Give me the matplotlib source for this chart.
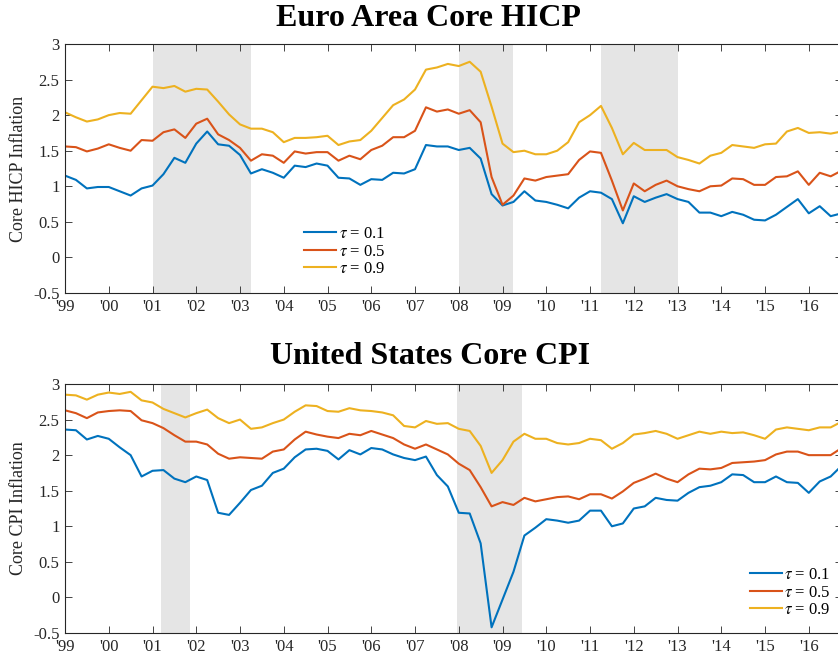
import matplotlib
matplotlib.use("Agg")
import matplotlib.pyplot as plt
import numpy as np

# quarterly estimates, 1999Q1 - 2016Q4
ea_q10 = [1.15, 1.09, 0.97, 0.99, 0.99, 0.93, 0.87, 0.97,
          1.01, 1.17, 1.40, 1.33, 1.60, 1.77, 1.59, 1.57,
          1.44, 1.18, 1.24, 1.19, 1.12, 1.29, 1.27, 1.32,
          1.29, 1.12, 1.11, 1.02, 1.10, 1.09, 1.19, 1.18,
          1.24, 1.58, 1.56, 1.56, 1.51, 1.54, 1.39, 0.89,
          0.73, 0.78, 0.93, 0.80, 0.78, 0.74, 0.69, 0.84,
          0.93, 0.91, 0.82, 0.48, 0.86, 0.78, 0.84, 0.89,
          0.82, 0.78, 0.63, 0.63, 0.58, 0.64, 0.60, 0.53,
          0.52, 0.60, 0.71, 0.82, 0.62, 0.72, 0.58, 0.62]
ea_q50 = [1.56, 1.55, 1.49, 1.53, 1.59, 1.54, 1.50, 1.65,
          1.64, 1.76, 1.80, 1.68, 1.88, 1.95, 1.73, 1.65,
          1.54, 1.36, 1.45, 1.43, 1.33, 1.49, 1.46, 1.48,
          1.48, 1.36, 1.43, 1.38, 1.51, 1.57, 1.69, 1.69,
          1.78, 2.11, 2.05, 2.08, 2.02, 2.07, 1.90, 1.13,
          0.74, 0.87, 1.11, 1.08, 1.13, 1.15, 1.17, 1.37,
          1.49, 1.47, 1.08, 0.66, 1.04, 0.93, 1.02, 1.08,
          1.00, 0.96, 0.93, 1.00, 1.01, 1.11, 1.10, 1.02,
          1.02, 1.13, 1.14, 1.21, 1.02, 1.19, 1.14, 1.22]
ea_q90 = [2.04, 1.97, 1.91, 1.94, 2.00, 2.03, 2.02, 2.21,
          2.40, 2.38, 2.41, 2.33, 2.37, 2.36, 2.19, 2.01,
          1.87, 1.81, 1.81, 1.76, 1.62, 1.68, 1.68, 1.69,
          1.71, 1.58, 1.63, 1.65, 1.78, 1.96, 2.14, 2.22,
          2.36, 2.64, 2.67, 2.72, 2.69, 2.75, 2.61, 2.12,
          1.60, 1.48, 1.50, 1.45, 1.45, 1.50, 1.62, 1.90,
          2.00, 2.13, 1.82, 1.45, 1.61, 1.51, 1.51, 1.51,
          1.41, 1.37, 1.32, 1.43, 1.47, 1.58, 1.56, 1.54,
          1.59, 1.60, 1.77, 1.82, 1.75, 1.76, 1.74, 1.77]

us_q10 = [2.36, 2.35, 2.22, 2.27, 2.23, 2.11, 2.00, 1.70,
          1.78, 1.79, 1.67, 1.62, 1.70, 1.65, 1.19, 1.16,
          1.33, 1.51, 1.57, 1.75, 1.81, 1.97, 2.08, 2.09,
          2.06, 1.94, 2.07, 2.01, 2.10, 2.08, 2.01, 1.96,
          1.93, 1.98, 1.72, 1.56, 1.19, 1.18, 0.76, -0.42,
          -0.03, 0.36, 0.87, 0.98, 1.10, 1.08, 1.05, 1.08,
          1.22, 1.22, 1.00, 1.04, 1.25, 1.28, 1.40, 1.37,
          1.36, 1.47, 1.55, 1.57, 1.62, 1.73, 1.72, 1.62,
          1.62, 1.70, 1.62, 1.61, 1.47, 1.63, 1.70, 1.85]
us_q50 = [2.63, 2.59, 2.52, 2.60, 2.62, 2.63, 2.62, 2.49,
          2.45, 2.38, 2.28, 2.19, 2.19, 2.15, 2.02, 1.95,
          1.97, 1.96, 1.95, 2.05, 2.08, 2.22, 2.33, 2.29,
          2.26, 2.24, 2.30, 2.28, 2.34, 2.29, 2.24, 2.15,
          2.09, 2.15, 2.08, 2.01, 1.88, 1.79, 1.55, 1.28,
          1.34, 1.30, 1.40, 1.35, 1.38, 1.41, 1.42, 1.38,
          1.45, 1.45, 1.39, 1.49, 1.61, 1.67, 1.74, 1.67,
          1.62, 1.73, 1.81, 1.80, 1.82, 1.89, 1.90, 1.91,
          1.93, 2.01, 2.05, 2.05, 2.00, 2.00, 2.00, 2.10]
us_q90 = [2.85, 2.84, 2.78, 2.85, 2.88, 2.86, 2.89, 2.77,
          2.74, 2.65, 2.59, 2.53, 2.59, 2.64, 2.52, 2.45,
          2.50, 2.37, 2.39, 2.45, 2.50, 2.61, 2.70, 2.69,
          2.62, 2.61, 2.66, 2.63, 2.62, 2.60, 2.56, 2.41,
          2.39, 2.48, 2.44, 2.45, 2.37, 2.34, 2.13, 1.75,
          1.93, 2.19, 2.30, 2.23, 2.23, 2.17, 2.15, 2.17,
          2.23, 2.21, 2.09, 2.17, 2.29, 2.31, 2.34, 2.30,
          2.23, 2.28, 2.33, 2.30, 2.33, 2.31, 2.32, 2.28,
          2.23, 2.36, 2.39, 2.37, 2.35, 2.39, 2.39, 2.47]

# recessions (start, end) in fractional years
ea_recessions = [(2001.0, 2003.25), (2008.0, 2009.25), (2011.25, 2013.0)]
us_recessions = [(2001.2, 2001.85), (2007.95, 2009.45)]

year_ticks = list(range(1999, 2017))
year_labels = ["'%02d" % (y % 100) for y in year_ticks]
y_ticks = [-0.5, 0, 0.5, 1, 1.5, 2, 2.5, 3]
y_labels = ['-0.5', '0', '0.5', '1', '1.5', '2', '2.5', '3']
taus = [r'$\tau$ = 0.1', r'$\tau$ = 0.5', r'$\tau$ = 0.9']
colors = ['#0072BD', '#D95319', '#EDB120']

plt.rcParams['font.family'] = 'Liberation Serif'
plt.rcParams['mathtext.fontset'] = 'stix'

dates = 1999 + np.arange(len(ea_q10)) / 4.0

fig = plt.figure(figsize=(8.38, 6.61), dpi=100)
W, H = 838.0, 661.0
ax_left = 65 / W
ax_w = (841.6 - 65) / W
ax_h = 249 / H
ax1 = fig.add_axes([ax_left, 1 - 293 / H, ax_w, ax_h])
ax2 = fig.add_axes([ax_left, 1 - 633 / H, ax_w, ax_h])


def draw_panel(ax, series, recessions, ylabel):
    for a, b in recessions:
        ax.axvspan(a, b, color='#e5e5e5', lw=0, zorder=0)
    for s, c, lab in zip(series, colors, taus):
        ax.plot(dates, s, color=c, lw=1.5, label=lab, zorder=2)
    ax.set_xlim(1999, 2016.75)
    ax.set_ylim(-0.5, 3)
    ax.set_xticks(year_ticks)
    ax.set_xticklabels(year_labels)
    ax.set_yticks(y_ticks)
    ax.set_yticklabels(y_labels)
    ax.tick_params(direction='in', top=True, right=True, length=5,
                   width=0.6, colors='#262626', labelsize=12, pad=4)
    for sp in ax.spines.values():
        sp.set_color('#262626')
        sp.set_linewidth(0.8)
    ax.set_ylabel(ylabel, fontsize=13, color='#262626')
    ax.yaxis.set_label_coords(-0.049, 0.5)


draw_panel(ax1, [ea_q10, ea_q50, ea_q90], ea_recessions, 'Core HICP Inflation')
draw_panel(ax2, [us_q10, us_q50, us_q90], us_recessions, 'Core CPI Inflation')

ax1.legend(loc='upper left', bbox_to_anchor=(0.308, 0.268), frameon=False,
           fontsize=12, handlelength=1.9, handletextpad=0.2, labelspacing=0.08,
           borderpad=0, borderaxespad=0)
ax2.legend(loc='upper left', bbox_to_anchor=(0.882, 0.264), frameon=False,
           fontsize=12, handlelength=1.9, handletextpad=0.15, labelspacing=0.08,
           borderpad=0, borderaxespad=0)

fig.text(428 / W, 1 - 18 / H, 'Euro Area Core HICP', ha='center', va='center',
         fontsize=23, fontweight='bold')
fig.text(430 / W, 1 - 357 / H, 'United States Core CPI', ha='center', va='center',
         fontsize=23, fontweight='bold')

fig.savefig('out.png', dpi=100)
